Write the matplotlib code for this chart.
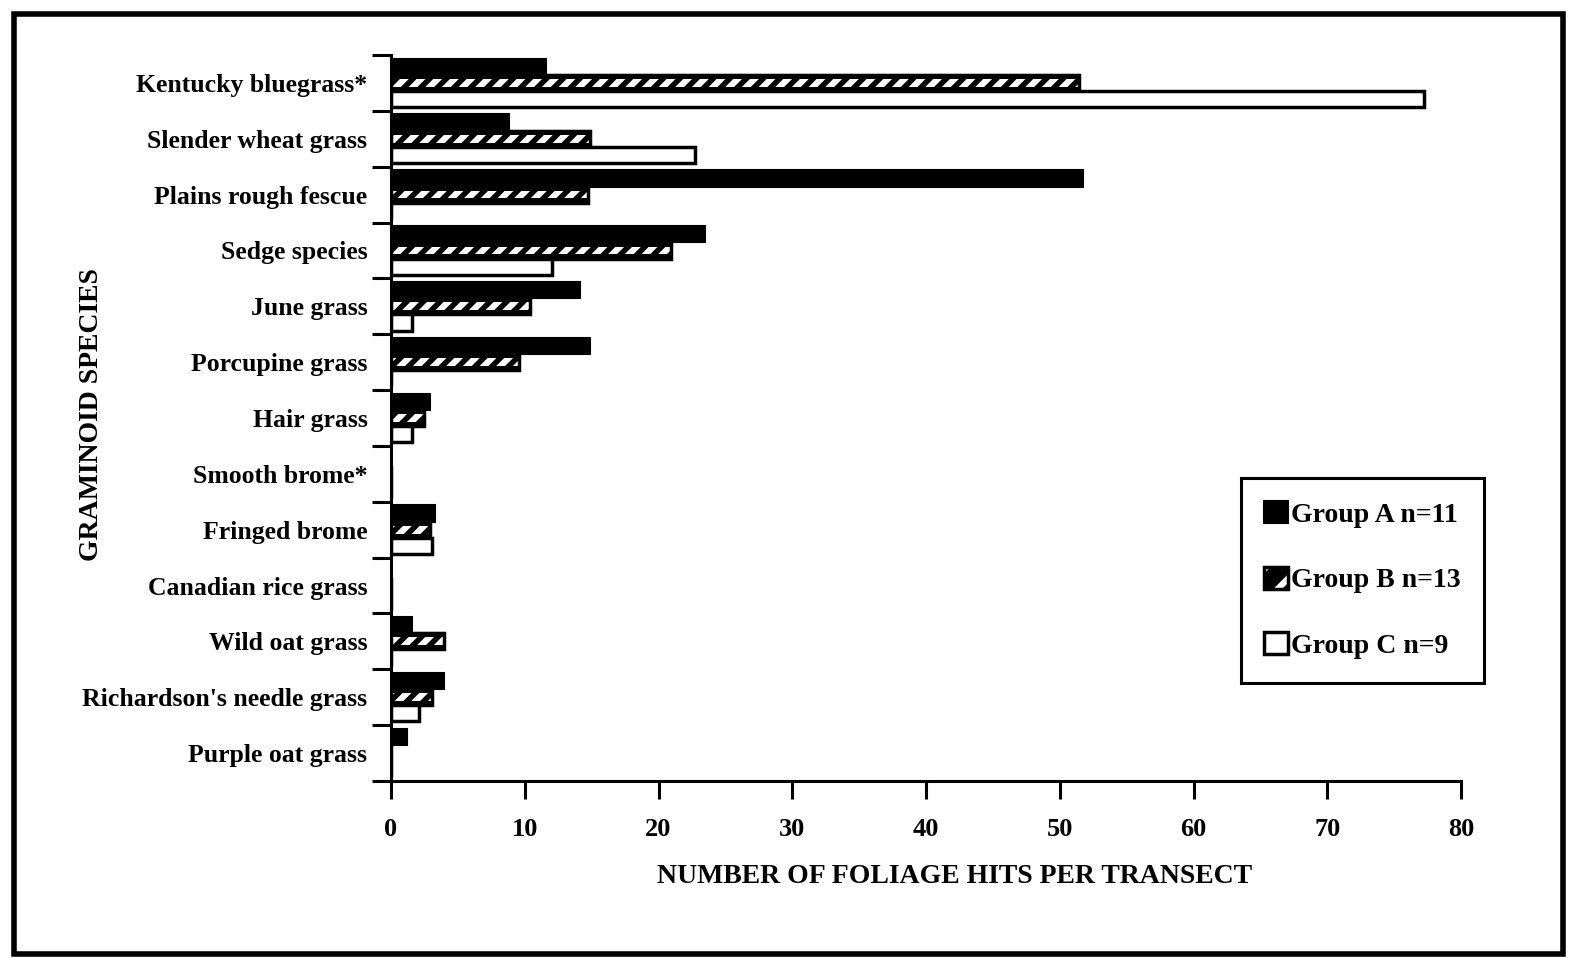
import numpy as np
import matplotlib
matplotlib.use('Agg')
import matplotlib.pyplot as plt
from matplotlib.patches import Patch, Rectangle
from matplotlib.legend_handler import HandlerTuple

# Datos
species = ['Kentucky bluegrass*', 'Slender wheat grass', 'Plains rough fescue',
           'Sedge species', 'June grass', 'Porcupine grass', 'Hair grass',
           'Smooth brome*', 'Fringed brome', 'Canadian rice grass',
           'Wild oat grass', "Richardson's needle grass", 'Purple oat grass']
group_a = [11.6, 8.8, 51.7, 23.5, 14.1, 14.9, 2.9, 0, 3.3, 0, 1.6, 4.0, 1.2]
group_b = [51.4, 14.9, 14.7, 20.9, 10.4, 9.6, 2.5, 0, 2.9, 0, 4.0, 3.1, 0]
group_c = [77.2, 22.7, 0, 12.0, 1.6, 0, 1.6, 0, 3.1, 0, 0, 2.1, 0]
labels = ['Group A n=11', 'Group B n=13', 'Group C n=9']
xticks = [0, 10, 20, 30, 40, 50, 60, 70, 80]

plt.rcParams['font.family'] = ['Liberation Serif', 'DejaVu Serif']
plt.rcParams['font.weight'] = 'bold'
plt.rcParams['hatch.linewidth'] = 4.5

fig = plt.figure(figsize=(15.69, 9.58), dpi=100)
ax = fig.add_axes([0.2492, 0.1848, 0.682, 0.7578])

y = np.arange(len(species))
h = 0.29

# Grupo A: negro
ax.barh(y - h, group_a, height=h, color='black', edgecolor='black', linewidth=1.5)

# Grupo B: negro con rayas blancas en el centro
ax.barh(y, group_b, height=h, color='black', edgecolor='black', linewidth=1.5)
ax.barh(y, group_b, height=h * 0.48, color='black', edgecolor='white', hatch='//', linewidth=0)
ax.barh(y, group_b, height=h, fill=False, edgecolor='black', linewidth=2.5)

# Grupo C: blanco con borde negro
ax.barh(y + h, group_c, height=h, color='white', edgecolor='black', linewidth=2.5)

ax.set_xlim(0, 80)
ax.set_ylim(len(species) - 0.5, -0.5)

ax.spines['top'].set_visible(False)
ax.spines['right'].set_visible(False)
ax.spines['left'].set_linewidth(2.2)
ax.spines['bottom'].set_linewidth(2.2)

ax.set_xticks(xticks)
ax.set_xticklabels([str(t) for t in xticks], fontsize=19, fontweight='bold')
ax.tick_params(axis='x', direction='out', length=13, width=2.2, pad=14)

ax.set_yticks(y)
ax.set_yticklabels(species, fontsize=18.5, fontweight='bold')
ax.tick_params(axis='y', which='major', length=0, pad=17)
ax.set_yticks(np.arange(len(species) + 1) - 0.5, minor=True)
ax.tick_params(axis='y', which='minor', direction='out', length=14, width=2.2)

ax.set_xlabel('NUMBER OF FOLIAGE HITS PER TRANSECT', fontsize=20, fontweight='bold')
ax.xaxis.set_label_coords(0.527, -0.115)
ax.set_ylabel('GRAMINOID SPECIES', fontsize=20, fontweight='bold')
ax.yaxis.set_label_coords(-0.268, 0.505)

# Leyenda
hA = Patch(facecolor='black', edgecolor='black', linewidth=1.5)
hB = (Patch(facecolor='black', edgecolor='white', hatch='/', linewidth=0),
      Patch(fill=False, edgecolor='black', linewidth=2.5))
hC = Patch(facecolor='white', edgecolor='black', linewidth=2.5)
leg = ax.legend([hA, hB, hC], labels, handler_map={tuple: HandlerTuple(ndivide=1)},
                loc='upper left', bbox_to_anchor=(0.794, 0.418), borderaxespad=0,
                fontsize=20, handlelength=0.85, handleheight=0.85, handletextpad=0.1,
                labelspacing=1.4, borderpad=0.85, fancybox=False, framealpha=1)
leg.get_frame().set_edgecolor('black')
leg.get_frame().set_linewidth(2.2)

# Marco exterior
fig.add_artist(Rectangle((0.0089, 0.0042), 0.987, 0.9812, transform=fig.transFigure,
                         fill=False, edgecolor='black', linewidth=4))

plt.savefig('out.png', dpi=100)
